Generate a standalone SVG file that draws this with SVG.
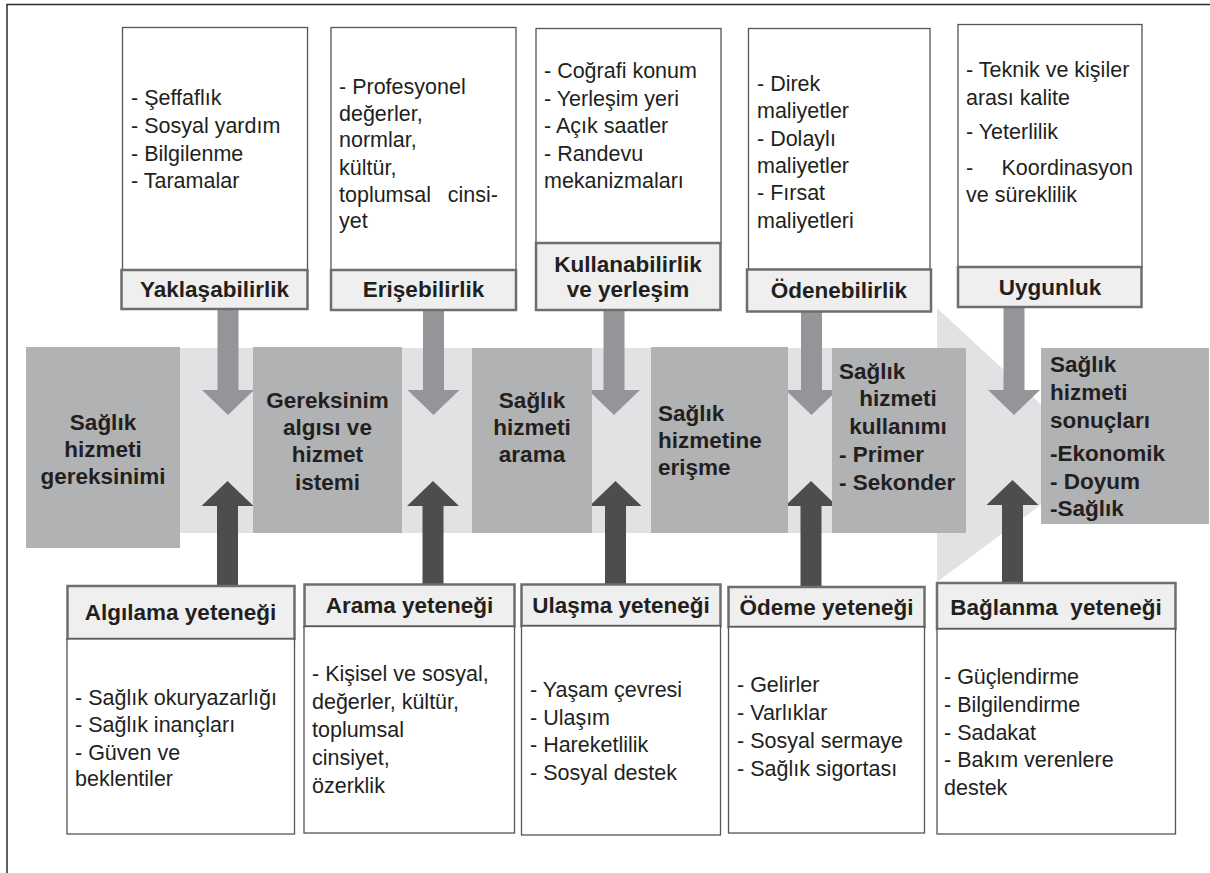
<svg xmlns="http://www.w3.org/2000/svg" width="1210" height="873" viewBox="0 0 1210 873">
<style>
text{font-family:"Liberation Sans",Arial,sans-serif;fill:#231f20}
.b{font-size:21.5px}
.lb{font-size:22.5px;font-weight:bold;text-anchor:middle}
.m{font-size:22.5px;font-weight:bold}
.mc{font-size:22.5px;font-weight:bold;text-anchor:middle}
.wb{fill:#fff;stroke:#555;stroke-width:1.3}
.lbx{fill:#efefef;stroke:#6e6e6e;stroke-width:2.5}
.mid{fill:#b1b2b4}
.dn{fill:#939598}
.up{fill:#4d4d4f}
</style>
<rect x="0" y="0" width="1210" height="873" fill="#fff"/>
<rect x="7" y="4.5" width="1215" height="880" fill="none" stroke="#2b2b2b" stroke-width="1.5"/>
<g id="band">
<rect x="26" y="348" width="912" height="185" fill="#e1e2e4"/>
<polygon points="937,308 1101,460 937,582" fill="#e1e2e4"/>
</g>
<g id="connectors">
<polygon class="dn" points="217.5,310 238.5,310 238.5,390 254,390 228,415 202,390 217.5,390"/>
<polygon class="dn" points="423,310 444,310 444,390 459.5,390 433.5,415 407.5,390 423,390"/>
<polygon class="dn" points="603.5,310 624.5,310 624.5,390 640,390 614,415 588,390 603.5,390"/>
<polygon class="dn" points="801,311 822,311 822,390 837.5,390 811.5,415 785.5,390 801,390"/>
<polygon class="dn" points="1003.5,307 1024.5,307 1024.5,390 1040,390 1014,415 988,390 1003.5,390"/>
<polygon class="up" points="217,585 238,585 238,506 253.5,506 227.5,481 201.5,506 217,506"/>
<polygon class="up" points="422.5,585 443.5,585 443.5,506 459,506 433,481 407,506 422.5,506"/>
<polygon class="up" points="605,585 626,585 626,506 641.5,506 615.5,481 589.5,506 605,506"/>
<polygon class="up" points="800.5,587 821.5,587 821.5,506 837,506 811,481 785,506 800.5,506"/>
<polygon class="up" points="1002,583 1023,583 1023,505 1038.5,505 1012.5,480 986.5,505 1002,505"/>
</g>
<g id="yaklasabilirlik">
<rect class="wb" x="122.5" y="27.5" width="185" height="243"/>
<rect class="lbx" x="121.5" y="270" width="186" height="39"/>
<text class="b" x="131" y="105">- Şeffaflık</text>
<text class="b" x="131" y="133">- Sosyal yardım</text>
<text class="b" x="131" y="161">- Bilgilenme</text>
<text class="b" x="131" y="188">- Taramalar</text>
<text class="lb" x="214.5" y="297">Yaklaşabilirlik</text>
</g>
<g id="erisebilirlik">
<rect class="wb" x="331" y="27.5" width="185" height="243"/>
<rect class="lbx" x="331" y="270" width="185" height="40"/>
<text class="b" x="339" y="94">- Profesyonel</text>
<text class="b" x="339" y="121">değerler,</text>
<text class="b" x="339" y="147">normlar,</text>
<text class="b" x="339" y="175">kültür,</text>
<text class="b" x="339" y="202">toplumsal</text>
<text class="b" x="498" y="202" text-anchor="end">cinsi-</text>
<text class="b" x="339" y="228">yet</text>
<text class="lb" x="423.5" y="297">Erişebilirlik</text>
</g>
<g id="kullanabilirlik">
<rect class="wb" x="536" y="28.5" width="185" height="215"/>
<rect class="lbx" x="536" y="243" width="184.5" height="67"/>
<text class="b" x="544" y="78">- Coğrafi konum</text>
<text class="b" x="544" y="106">- Yerleşim yeri</text>
<text class="b" x="544" y="133">- Açık saatler</text>
<text class="b" x="544" y="161">- Randevu</text>
<text class="b" x="544" y="188">mekanizmaları</text>
<text class="lb" x="628" y="272">Kullanabilirlik</text>
<text class="lb" x="628" y="297">ve yerleşim</text>
</g>
<g id="odenebilirlik">
<rect class="wb" x="748.5" y="28.5" width="181.5" height="241"/>
<rect class="lbx" x="747" y="269.5" width="184" height="42"/>
<text class="b" x="757" y="91">- Direk</text>
<text class="b" x="757" y="118">maliyetler</text>
<text class="b" x="757" y="146">- Dolaylı</text>
<text class="b" x="757" y="173">maliyetler</text>
<text class="b" x="757" y="200">- Fırsat</text>
<text class="b" x="757" y="228">maliyetleri</text>
<text class="lb" x="839" y="298">Ödenebilirlik</text>
</g>
<g id="uygunluk">
<rect class="wb" x="958" y="24.5" width="184" height="243"/>
<rect class="lbx" x="958" y="267" width="183.5" height="40"/>
<text class="b" x="966" y="77">- Teknik ve kişiler</text>
<text class="b" x="966" y="105">arası kalite</text>
<text class="b" x="966" y="139">- Yeterlilik</text>
<text class="b" x="966" y="175">-</text>
<text class="b" x="1133" y="175" text-anchor="end">Koordinasyon</text>
<text class="b" x="966" y="202">ve süreklilik</text>
<text class="lb" x="1050" y="295">Uygunluk</text>
</g>
<g id="gereksinim">
<rect class="mid" x="26" y="347" width="154" height="201"/>
<text class="mc" x="103" y="430">Sağlık</text>
<text class="mc" x="103" y="457">hizmeti</text>
<text class="mc" x="103" y="484">gereksinimi</text>
</g>
<g id="algi-istem">
<rect class="mid" x="253" y="347" width="149" height="186"/>
<text class="mc" x="327.5" y="408">Gereksinim</text>
<text class="mc" x="327.5" y="435">algısı ve</text>
<text class="mc" x="327.5" y="462">hizmet</text>
<text class="mc" x="327.5" y="490">istemi</text>
</g>
<g id="arama">
<rect class="mid" x="472" y="348" width="120" height="185"/>
<text class="mc" x="532" y="408">Sağlık</text>
<text class="mc" x="532" y="435">hizmeti</text>
<text class="mc" x="532" y="462">arama</text>
</g>
<g id="erisme">
<rect class="mid" x="651" y="347" width="137" height="186"/>
<text class="m" x="658" y="421">Sağlık</text>
<text class="m" x="658" y="448">hizmetine</text>
<text class="m" x="658" y="475">erişme</text>
</g>
<g id="kullanim">
<rect class="mid" x="832" y="348" width="134" height="185"/>
<text class="m" x="839" y="379">Sağlık</text>
<text class="mc" x="898" y="406">hizmeti</text>
<text class="mc" x="898" y="434">kullanımı</text>
<text class="m" x="839" y="462">- Primer</text>
<text class="m" x="839" y="490">- Sekonder</text>
</g>
<g id="sonuclar">
<rect class="mid" x="1041" y="348" width="168" height="176"/>
<text class="m" x="1050" y="372">Sağlık</text>
<text class="m" x="1050" y="400">hizmeti</text>
<text class="m" x="1050" y="428">sonuçları</text>
<text class="m" x="1050" y="461">-Ekonomik</text>
<text class="m" x="1050" y="489">- Doyum</text>
<text class="m" x="1050" y="516">-Sağlık</text>
</g>
<g id="algilama">
<rect class="lbx" x="67.5" y="586" width="227" height="53"/>
<rect class="wb" x="67" y="639" width="227.5" height="195"/>
<text class="lb" x="180.5" y="620">Algılama yeteneği</text>
<text class="b" x="75" y="705">- Sağlık okuryazarlığı</text>
<text class="b" x="75" y="732">- Sağlık inançları</text>
<text class="b" x="75" y="760">- Güven ve</text>
<text class="b" x="75" y="786">beklentiler</text>
</g>
<g id="arama-yetenegi">
<rect class="lbx" x="304.5" y="584.5" width="210" height="42"/>
<rect class="wb" x="304" y="626.5" width="210.5" height="206.5"/>
<text class="lb" x="409.5" y="613">Arama yeteneği</text>
<text class="b" x="312" y="681">- Kişisel ve sosyal,</text>
<text class="b" x="312" y="709">değerler, kültür,</text>
<text class="b" x="312" y="737">toplumsal</text>
<text class="b" x="312" y="765">cinsiyet,</text>
<text class="b" x="312" y="793">özerklik</text>
</g>
<g id="ulasma">
<rect class="lbx" x="521.5" y="584.5" width="199" height="41.5"/>
<rect class="wb" x="521.5" y="626" width="199" height="209"/>
<text class="lb" x="621" y="613">Ulaşma yeteneği</text>
<text class="b" x="530" y="697">- Yaşam çevresi</text>
<text class="b" x="530" y="725">- Ulaşım</text>
<text class="b" x="530" y="752">- Hareketlilik</text>
<text class="b" x="530" y="780">- Sosyal destek</text>
</g>
<g id="odeme">
<rect class="lbx" x="728.5" y="587" width="196" height="40"/>
<rect class="wb" x="728.5" y="627" width="196" height="206"/>
<text class="lb" x="826.5" y="615">Ödeme yeteneği</text>
<text class="b" x="737" y="692">- Gelirler</text>
<text class="b" x="737" y="720">- Varlıklar</text>
<text class="b" x="737" y="748">- Sosyal sermaye</text>
<text class="b" x="737" y="776">- Sağlık sigortası</text>
</g>
<g id="baglanma">
<rect class="lbx" x="937" y="583" width="238.5" height="46"/>
<rect class="wb" x="937" y="629" width="238.5" height="205"/>
<text class="lb" x="1056" y="615" xml:space="preserve">Bağlanma  yeteneği</text>
<text class="b" x="944" y="684">- Güçlendirme</text>
<text class="b" x="944" y="712">- Bilgilendirme</text>
<text class="b" x="944" y="740">- Sadakat</text>
<text class="b" x="944" y="767">- Bakım verenlere</text>
<text class="b" x="944" y="795">destek</text>
</g>
</svg>
